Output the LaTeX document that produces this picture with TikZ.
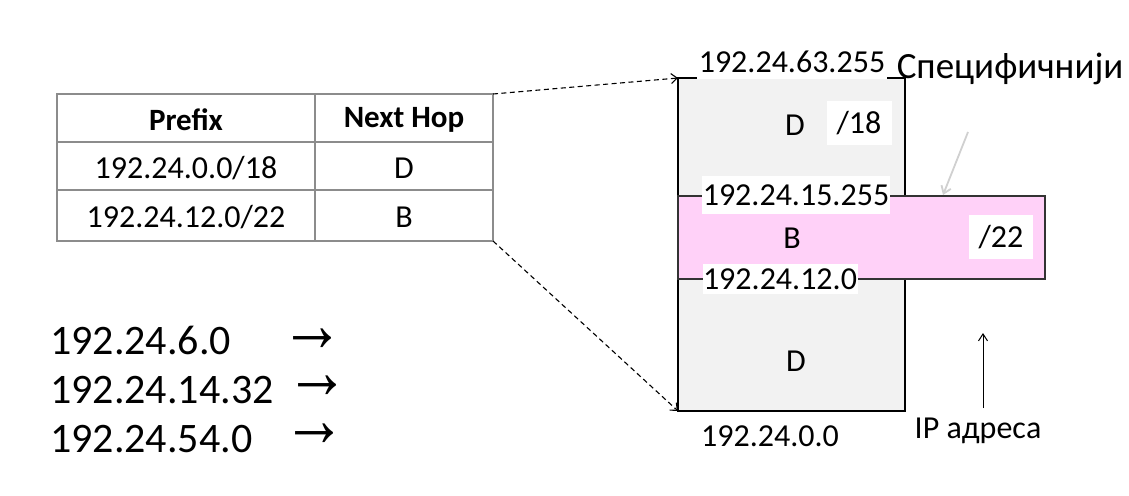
\documentclass[tikz,border=0pt]{standalone}
\usepackage{fontspec}
\usepackage{graphicx}
\setmainfont{Carlito}
\newfontfamily\symfont{Liberation Sans}
\usetikzlibrary{arrows.meta}
\definecolor{boxgray}{HTML}{F2F2F2}
\definecolor{boxpink}{HTML}{FFD1F8}
\definecolor{tablegray}{HTML}{8C8C8C}
\definecolor{hintgray}{HTML}{D0D0D0}
\newcommand{\bigarrowglyph}{\scalebox{1.6}[2.0]{→}}
\tikzset{
  fs/.style={font=\fontsize{#1}{#1}\selectfont},
  cell/.style={fs=32, inner sep=0pt, anchor=center},
  whitelbl/.style={fill=white, inner sep=0pt, fs=32, anchor=center},
  dasharrow/.style={line width=1.1pt, dash pattern=on 5pt off 3.5pt, -{Straight Barb[length=6pt,width=10pt]}},
  lookup/.style={fs=42, inner sep=0pt, anchor=west},
  lookarrow/.style={inner sep=0pt, font=\symfont\bfseries\fontsize{40}{40}\selectfont},
}
\begin{document}
\begin{tikzpicture}[x=1pt,y=-1pt]
\useasboundingbox (0,0) rectangle (1129,495);
% table
\draw[tablegray, line width=1.5pt] (57,94) rectangle (493,241);
\draw[tablegray, line width=1.5pt] (57,142) -- (493,142);
\draw[tablegray, line width=1.5pt] (57,190) -- (493,190);
\draw[tablegray, line width=1.5pt] (315,94) -- (315,241);
\node[cell, font=\fontsize{31}{31}\selectfont\bfseries] (h1) at (186,120) {Prefix};
\node[cell, font=\fontsize{31}{31}\selectfont\bfseries] (h2) at (404,120) {Next Hop};
\node[cell] (p1) at (186,168) {192.24.0.0/18};
\node[cell] (n1) at (404,168) {D};
\node[cell] (p2) at (186,217) {192.24.12.0/22};
\node[cell] (n2) at (404,217) {B};
\coordinate (ttr) at (493,94);
\coordinate (tbr) at (493,241);
% address range boxes
\draw[black, line width=1.2pt, fill=boxgray] (678,78) rectangle (905,411);
\draw[black!80, line width=1.2pt, fill=boxpink] (678,196) rectangle (1045,279);
\coordinate (rtl) at (678,78);
\coordinate (rbl) at (678,411);
\draw[dasharrow] (ttr) -- (rtl);
\draw[dasharrow] (tbr) -- (rbl);
\node[whitelbl, minimum width=190pt, minimum height=34pt] (top) at (792,62) {192.24.63.255};
\node[cell] (d1) at (795,125) {D};
\node[whitelbl, minimum width=65pt, minimum height=44pt] (s18) at (859,123) {/18};
\node[whitelbl, minimum width=188pt, minimum height=38pt] (b15) at (796,195) {192.24.15.255};
\node[cell] (bb) at (792,238) {B};
\node[whitelbl, minimum width=64pt, minimum height=44pt] (s22) at (1001,237) {/22};
\node[whitelbl, minimum width=155pt, minimum height=30pt] (b12) at (780,279) {192.24.12.0};
\node[cell] (d2) at (796,361) {D};
\node[cell] (bot) at (770,436) {192.24.0.0};
\node[cell, fs=37] (spec) at (1010,69) {Специфичнији};
\node[cell] (ip) at (978,431) {IP адреса};
\coordinate (ipa) at (983,408);
\coordinate (ipb) at (983,333);
\draw[line width=1pt, -{Straight Barb[length=7pt,width=9pt]}] (ipa) -- (ipb);
\coordinate (ga) at (968,132);
\coordinate (gb) at (943,195);
\draw[hintgray, line width=1.8pt, -{Straight Barb[length=7pt,width=10pt]}] (ga) -- (gb);
% lookups
\node[lookup] (a1) at (50,340) {192.24.6.0};
\node[lookup] (a2) at (50,390) {192.24.14.32};
\node[lookup] (a3) at (50,439) {192.24.54.0};
\node[lookarrow] (r1) at (312,340) {\bigarrowglyph};
\node[lookarrow] (r2) at (317,387) {\bigarrowglyph};
\node[lookarrow] (r3) at (314,435) {\bigarrowglyph};
\end{tikzpicture}
\end{document}
